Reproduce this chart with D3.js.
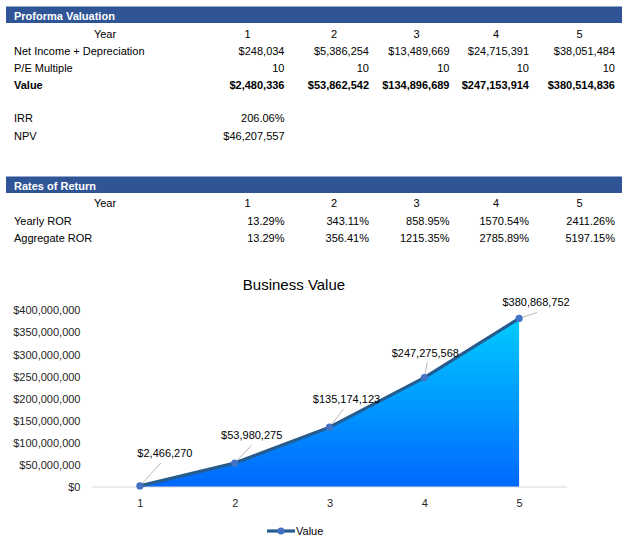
<!DOCTYPE html>
<html><head><meta charset="utf-8">
<script src="https://cdn.jsdelivr.net/npm/d3@7"></script>
<style>
html,body{margin:0;padding:0;background:#fff;}
svg{display:block;}
</style></head>
<body>
<svg id="c" width="631" height="553"></svg>
<script>
// ---- data ----
const years = [1, 2, 3, 4, 5];
const netIncome = ["$248,034", "$5,386,254", "$13,489,669", "$24,715,391", "$38,051,484"];
const peMultiple = ["10", "10", "10", "10", "10"];
const valueRow = ["$2,480,336", "$53,862,542", "$134,896,689", "$247,153,914", "$380,514,836"];
const irr = "206.06%";
const npv = "$46,207,557";
const yearlyROR = ["13.29%", "343.11%", "858.95%", "1570.54%", "2411.26%"];
const aggregateROR = ["13.29%", "356.41%", "1215.35%", "2785.89%", "5197.15%"];
const chartValues = [2466270, 53980275, 135174123, 247275568, 380868752];
const yTicks = [0, 50000000, 100000000, 150000000, 200000000, 250000000, 300000000, 350000000, 400000000];

// ---- layout ----
const svg = d3.select("#c");
const F = "'Liberation Sans', Arial, sans-serif";
const colRight = [284.5, 369, 449.5, 529, 615];
const colCenter = [247.5, 334, 416.5, 496, 579.5];
const labelX = 14;

function header(y, text) {
  svg.append("rect").attr("x", 6).attr("y", y).attr("width", 616).attr("height", 16.5).attr("fill", "#2F5597");
  svg.append("text").attr("x", 14).attr("y", y + 13).attr("font-family", F).attr("font-size", 11)
    .attr("font-weight", "bold").attr("fill", "#fff").text(text);
}
function yearRow(y) {
  svg.append("text").attr("x", 105).attr("y", y).attr("text-anchor", "middle").attr("font-family", F)
    .attr("font-size", 11).attr("fill", "#000").text("Year");
  years.forEach((yr, i) => svg.append("text").attr("x", colCenter[i]).attr("y", y).attr("text-anchor", "middle")
    .attr("font-family", F).attr("font-size", 11).attr("fill", "#000").text(yr));
}
function dataRow(y, label, vals, bold) {
  svg.append("text").attr("x", labelX).attr("y", y).attr("font-family", F).attr("font-size", 11)
    .attr("font-weight", bold ? "bold" : "normal").attr("fill", "#000").text(label);
  vals.forEach((v, i) => svg.append("text").attr("x", colRight[i]).attr("y", y).attr("text-anchor", "end")
    .attr("font-family", F).attr("font-size", 11).attr("font-weight", bold ? "bold" : "normal")
    .attr("fill", "#000").text(v));
}

header(6.5, "Proforma Valuation");
yearRow(37.5);
dataRow(55, "Net Income + Depreciation", netIncome);
dataRow(72, "P/E Multiple", peMultiple);
dataRow(89, "Value", valueRow, true);
dataRow(122, "IRR", [irr]);
dataRow(140, "NPV", [npv]);

header(176.5, "Rates of Return");
yearRow(207);
dataRow(225, "Yearly ROR", yearlyROR);
dataRow(242, "Aggregate ROR", aggregateROR);

// ---- chart ----
const x = d3.scalePoint().domain(years).range([92.5, 566.5]).padding(0.5);
const y = d3.scaleLinear().domain([0, 400000000]).range([487, 310]);

svg.append("text").attr("x", 294).attr("y", 290).attr("text-anchor", "middle").attr("font-family", F)
  .attr("font-size", 15).attr("fill", "#000").text("Business Value");

const fmt = d => "$" + d3.format(",")(d);
const yAxis = d3.axisLeft(y).tickValues(yTicks).tickFormat(fmt).tickSize(0).tickPadding(0);
const gy = svg.append("g").attr("transform", "translate(80.5,0)").call(yAxis);
gy.select(".domain").remove();
gy.selectAll("text").attr("font-family", F).attr("font-size", 11).attr("fill", "#262626").attr("dy", "0.35em");

const defs = svg.append("defs");
const grad = defs.append("linearGradient").attr("id", "ag").attr("gradientUnits", "userSpaceOnUse")
  .attr("x1", 0).attr("x2", 0).attr("y1", y(d3.max(chartValues))).attr("y2", y(0));
grad.append("stop").attr("offset", "0%").attr("stop-color", "#00CBFF");
grad.append("stop").attr("offset", "100%").attr("stop-color", "#0068FF");

const pts = years.map((yr, i) => ({ yr, v: chartValues[i] }));
svg.append("path").datum(pts).attr("fill", "url(#ag)")
  .attr("d", d3.area().x(d => x(d.yr)).y0(y(0)).y1(d => y(d.v)));

const xAxis = d3.axisBottom(x).tickSize(0).tickPadding(12);
const gx = svg.append("g").attr("transform", "translate(0,487)").call(xAxis);
gx.select(".domain").attr("stroke", "#D9D9D9").attr("stroke-width", 1)
  .attr("d", "M92.5,0H567");
gx.selectAll("text").attr("font-family", F).attr("font-size", 11).attr("fill", "#262626");

svg.append("path").datum(pts).attr("fill", "none").attr("stroke", "#265C8E").attr("stroke-width", 3.2)
  .attr("stroke-linejoin", "round")
  .attr("d", d3.line().x(d => x(d.yr)).y(d => y(d.v)));

// data label offsets relative to each point (label centre x, baseline y, leader end x offset)
const labDx = [25, 17, 17, 1, 17];
const labDy = [-29, -24, -24, -21, -12];
const leadDx = [-4, 0, -3, 2, 1];

pts.forEach((d, i) => {
  const px = x(d.yr), py = y(d.v);
  const lx = px + labDx[i], ly = py + labDy[i];
  svg.append("line").attr("x1", px).attr("y1", py).attr("x2", lx + leadDx[i]).attr("y2", ly + 6)
    .attr("stroke", "#A6A6A6").attr("stroke-width", 0.8);
});
svg.append("g").selectAll("circle").data(pts).join("circle")
  .attr("cx", d => x(d.yr)).attr("cy", d => y(d.v)).attr("r", 3.6).attr("fill", "#4472C4");
pts.forEach((d, i) => {
  const px = x(d.yr), py = y(d.v);
  svg.append("text").attr("x", px + labDx[i]).attr("y", py + labDy[i]).attr("text-anchor", "middle")
    .attr("font-family", F).attr("font-size", 11).attr("fill", "#000").text(fmt(d.v));
});

// legend
svg.append("line").attr("x1", 267).attr("x2", 295).attr("y1", 531).attr("y2", 531)
  .attr("stroke", "#265C8E").attr("stroke-width", 3.2);
svg.append("circle").attr("cx", 281).attr("cy", 531).attr("r", 3.6).attr("fill", "#4472C4");
svg.append("text").attr("x", 296).attr("y", 535).attr("font-family", F).attr("font-size", 11)
  .attr("fill", "#000").text("Value");
</script>
</body></html>
